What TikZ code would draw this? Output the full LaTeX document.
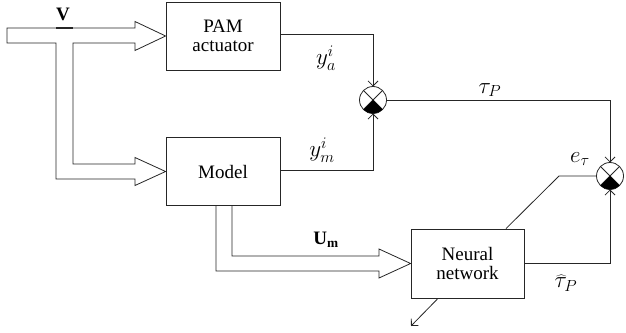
\documentclass[tikz,border=0pt]{standalone}
\usepackage{fix-cm}
\usepackage{fontspec}
\setmainfont{Liberation Serif}
\usetikzlibrary{arrows.meta}
\begin{document}
\begin{tikzpicture}[x=1pt,y=1pt,
  line width=0.8pt, draw=black!85,
  box/.style={draw, rectangle, inner sep=0pt, align=center, font=\fontsize{19}{20}\selectfont, minimum width=114pt, minimum height=68pt},
  sumj/.style={draw, circle, fill=white, minimum size=27pt, inner sep=0pt, outer sep=0pt},
  sig/.style={-{Straight Barb[length=5pt,width=10pt]}},
  lab/.style={font=\fontsize{23}{24}\selectfont, inner sep=0pt},
  vlab/.style={font=\fontsize{19}{20}\selectfont, inner sep=0pt},
  hollow/.style={draw, fill=white, line join=miter}]
\useasboundingbox (0,0) rectangle (626,-332);
\node[box] (pam) at (223,-36) {PAM\\[-1pt]actuator};
\node[box] (model) at (223,-171.5) {Model};
\node[box, minimum width=113pt, minimum height=69pt] (nn) at (467.5,-263.5) {Neural\\[-1pt]network};
\node[sumj] (s1) at (373,-100) {};
\node[sumj] (s2) at (610,-176) {};
\foreach \s in {s1,s2}{
  \draw (\s.45) -- (\s.-135);
  \draw (\s.135) -- (\s.-45);
  \fill (\s.center) -- (\s.-45) arc[start angle=-45,end angle=-135,radius=13.5pt] -- cycle;
}
% signal connectors
\draw[sig] ([yshift=2pt]pam.east) -| (s1.north);
\draw[sig] ([yshift=1.5pt]model.east) -| (s1.south);
\draw[sig] (s1.east) -| (s2.north);
\draw[sig] (nn.east) -| (s2.south);
\coordinate (ebend) at (559,-176);
\draw (s2.west) -- (ebend) -- ([xshift=38.5pt]nn.north);
\coordinate (nnout) at (411,-326);
\draw[sig] ([xshift=-29.5pt]nn.south) -- (nnout);
% hollow (vector) arrows
\draw[hollow] (7,-28) -- (135,-28) -- (135,-21.5) -- (pam.west) -- (135,-50.5) -- (135,-43)
  -- (73,-43) -- (73,-164) -- (135,-164) -- (135,-157.5) -- (model.west) -- (135,-185.5)
  -- (135,-179) -- (56,-179) -- (56,-43) -- (7,-43) -- cycle;
\draw[line width=2pt] (56,-28) -- (73,-28);
\draw[hollow] (216,-206) -- (216,-271) -- (379,-271) -- (379,-278) -- (nn.west) -- (379,-249)
  -- (379,-256) -- (232,-256) -- (232,-206);
% labels
\node[vlab] (lv) at (63,-14) {\textbf{V}};
\node[lab] (lya) at (326,-58) {$y_a^i$};
\node[lab] (lym) at (322,-150) {$y_m^i$};
\node[lab] (ltp) at (490,-90) {$\tau_P$};
\node[lab] (let) at (580,-159) {$e_\tau$};
\node[lab] (lth) at (566,-283) {$\widehat{\tau}_P$};
\node[vlab] (lum) at (326,-240) {\textbf{U}\textsubscript{\textbf{m}}};
\end{tikzpicture}
\end{document}
